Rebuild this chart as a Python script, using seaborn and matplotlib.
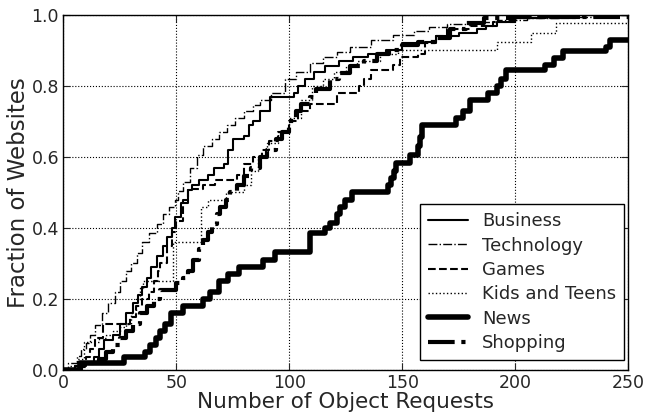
import numpy as np
import pandas as pd
import matplotlib
matplotlib.use('Agg')
import matplotlib.pyplot as plt
import seaborn as sns

# step points (x = object requests, y = fraction of websites)
business_x = [0, 5, 10, 13.5, 16, 18, 22, 25, 28, 31, 33, 35, 37, 39, 41.5, 44, 46, 48, 49.5, 52, 55, 57, 60, 64, 66.5,
              71, 73, 75, 80, 82, 84, 87, 91.6, 102, 104, 107, 111, 116, 122, 128, 135, 143, 150, 160, 165, 175,
              183, 187, 192, 200, 210, 228, 250]
business_y = [0, 0.01, 0.02, 0.037, 0.06, 0.085, 0.10, 0.13, 0.16, 0.19, 0.21, 0.235, 0.26, 0.29, 0.32, 0.35, 0.375,
              0.40, 0.43, 0.47, 0.507, 0.52, 0.535, 0.55, 0.57, 0.58, 0.62, 0.65, 0.66, 0.69, 0.70, 0.73, 0.77, 0.78,
              0.80, 0.82, 0.84, 0.855, 0.87, 0.88, 0.89, 0.90, 0.92, 0.925, 0.94, 0.95, 0.96, 0.97, 0.98, 0.99,
              0.995, 1.0, 1.0]

tech_x = [0, 2, 6, 8, 10, 12, 14, 17, 20, 23, 25, 28, 30, 32.7, 35, 38, 41.5, 44, 47, 49.5, 51, 53, 56, 59, 62, 66,
          69, 72.5, 76, 80, 84, 87, 92, 98, 103, 109, 115, 121, 127, 136, 146, 155, 162, 170, 182, 192, 205, 220,
          235, 250]
tech_y = [0, 0.02, 0.04, 0.06, 0.076, 0.10, 0.127, 0.16, 0.19, 0.22, 0.25, 0.28, 0.30, 0.33, 0.36, 0.385, 0.41,
          0.44, 0.46, 0.48, 0.505, 0.53, 0.57, 0.605, 0.63, 0.65, 0.67, 0.69, 0.71, 0.73, 0.745, 0.76, 0.78, 0.82,
          0.84, 0.865, 0.88, 0.895, 0.91, 0.93, 0.944, 0.955, 0.966, 0.975, 0.98, 0.986, 0.99, 0.995, 1.0, 1.0]

games_x = [0, 5, 8, 10, 12, 14, 17.7, 29.6, 32, 35, 38, 40, 42, 43, 46, 48, 50, 53, 55, 62, 67, 77, 80, 84, 88, 91,
           95, 100, 104, 109, 121, 131, 133, 136, 146, 149, 157, 160, 165, 170, 180, 190, 200, 230, 250]
games_y = [0, 0.01, 0.02, 0.037, 0.06, 0.09, 0.13, 0.15, 0.18, 0.20, 0.22, 0.25, 0.28, 0.30, 0.35, 0.39, 0.42, 0.48,
           0.51, 0.52, 0.535, 0.55, 0.58, 0.60, 0.62, 0.645, 0.67, 0.70, 0.73, 0.75, 0.78, 0.80, 0.82, 0.845, 0.86,
           0.88, 0.89, 0.92, 0.94, 0.96, 0.97, 0.98, 0.99, 1.0, 1.0]

kids_x = [0, 3, 6, 9, 16, 19, 22, 25, 28, 30, 32, 34, 35.4, 48.5, 61, 64, 72, 80, 83, 86, 90, 95, 100, 105, 110, 115,
          120, 125, 130, 140, 148, 192, 207, 218, 250]
kids_y = [0, 0.01, 0.03, 0.08, 0.09, 0.10, 0.11, 0.12, 0.13, 0.16, 0.20, 0.23, 0.25, 0.36, 0.46, 0.48, 0.50, 0.52,
          0.56, 0.60, 0.64, 0.67, 0.71, 0.76, 0.80, 0.82, 0.84, 0.855, 0.87, 0.89, 0.90, 0.925, 0.95, 0.977, 0.977]

news_x = [0, 7.5, 27, 36, 38.5, 41, 43, 45, 47.5, 53, 62, 65, 69, 73, 78, 88.6, 93.8, 109, 116, 118, 121, 122.6,
          124.8, 127.7, 143.8, 145, 146.2, 147.4, 153.5, 157, 158, 158.7, 174, 177, 180, 188, 192, 193.5, 196, 213,
          217, 221, 240, 242, 250]
news_y = [0, 0.02, 0.037, 0.05, 0.07, 0.09, 0.11, 0.13, 0.16, 0.18, 0.20, 0.22, 0.25, 0.27, 0.29, 0.31, 0.333, 0.386,
          0.40, 0.415, 0.44, 0.46, 0.48, 0.50, 0.52, 0.54, 0.56, 0.583, 0.606, 0.63, 0.655, 0.69, 0.71, 0.73, 0.76,
          0.78, 0.80, 0.82, 0.845, 0.86, 0.878, 0.897, 0.91, 0.93, 0.93]

shop_x = [0, 8, 12, 16, 19, 22, 25, 28, 31, 34, 37, 40, 43, 50, 53, 55, 57.6, 60, 62, 64, 66, 68, 69.5, 72, 74, 77,
          80, 83, 87, 90, 94, 97, 100, 103, 105, 109, 112, 118, 122, 127, 133, 139, 144, 150, 157, 165, 171, 178,
          186, 200, 250]
shop_y = [0, 0.01, 0.02, 0.03, 0.05, 0.07, 0.09, 0.11, 0.13, 0.16, 0.18, 0.20, 0.225, 0.245, 0.26, 0.28, 0.31,
          0.34, 0.366, 0.39, 0.41, 0.44, 0.46, 0.48, 0.50, 0.52, 0.545, 0.57, 0.60, 0.62, 0.65, 0.67, 0.70, 0.73,
          0.75, 0.77, 0.79, 0.82, 0.835, 0.855, 0.87, 0.89, 0.90, 0.915, 0.925, 0.935, 0.96, 0.977, 0.99, 0.995,
          0.995]

series = [
    ('Business', business_x, business_y, '-', 1.5),
    ('Technology', tech_x, tech_y, '-.', 1.0),
    ('Games', games_x, games_y, '--', 1.5),
    ('Kids and Teens', kids_x, kids_y, ':', 1.0),
    ('News', news_x, news_y, '-', 4.0),
    ('Shopping', shop_x, shop_y, '-.', 3.0),
]

sns.set_style('white')
plt.rcParams['font.family'] = ['DejaVu Sans']

fig = plt.figure(figsize=(6.45, 4.13), dpi=100)
ax = fig.add_axes([0.098, 0.104, 0.876, 0.860])

for name, xs, ys, ls, lw in series:
    sns.lineplot(x=xs, y=ys, drawstyle='steps-post', color='k', linestyle=ls, lw=lw,
                 label=name, ax=ax, errorbar=None, sort=False)

ax.set_xlim(0, 250)
ax.set_ylim(0, 1.0)
ax.set_xticks([0, 50, 100, 150, 200, 250])
ax.set_yticks([0.0, 0.2, 0.4, 0.6, 0.8, 1.0])
ax.set_yticklabels(['0.0', '0.2', '0.4', '0.6', '0.8', '1.0'])
ax.grid(True, linestyle=':', color='k', lw=0.8)
ax.tick_params(direction='in', length=5, labelsize=12.5, top=True, right=True,
               bottom=True, left=True, pad=3)
for sp in ax.spines.values():
    sp.set_color('k')
    sp.set_linewidth(1.0)
ax.set_xlabel('Number of Object Requests', fontsize=15.5, labelpad=0)
ax.set_ylabel('Fraction of Websites', fontsize=16.5, labelpad=1)

leg = ax.legend(loc='lower right', fontsize=13, frameon=True, fancybox=False,
                edgecolor='k', framealpha=1, handlelength=2.2, borderpad=0.45,
                labelspacing=0.35, handletextpad=0.8, borderaxespad=0,
                bbox_to_anchor=(0.993, 0.028))
leg.get_frame().set_linewidth(1.0)

fig.savefig('out.png', dpi=100)
